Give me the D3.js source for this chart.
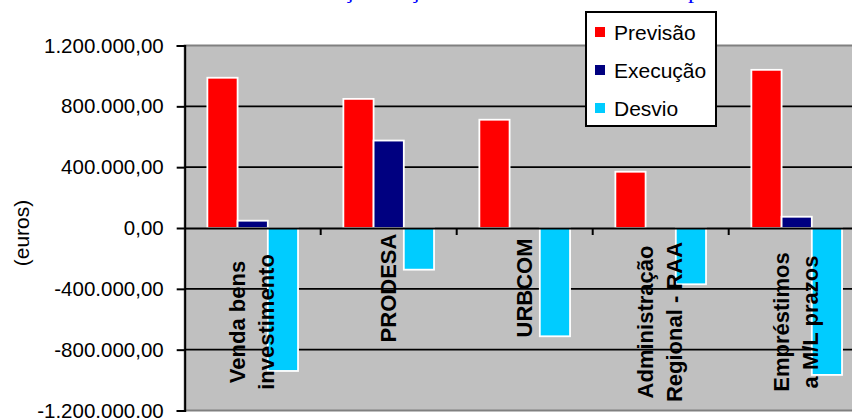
<!DOCTYPE html>
<html>
<head>
<meta charset="utf-8">
<script src="https://cdn.jsdelivr.net/npm/d3@7"></script>
<style>
  html, body { margin: 0; padding: 0; background: #fff; }
  svg { display: block; }
</style>
</head>
<body>
<script>
// Receitas de capital: previsão, execução e desvio por rubrica (euros)
const categories = ["Venda bens investimento", "PRODESA", "URBCOM", "Administração Regional - RAA", "Empréstimos a M/L prazos"];
const categoryLines = [["Venda bens", "investimento"], ["PRODESA"], ["URBCOM"], ["Administração", "Regional - RAA"], ["Empréstimos", "a M/L prazos"]];
const seriesNames = ["Previsão", "Execução", "Desvio"];
const previsao = [988000, 849000, 712000, 370000, 1040000];
const execucao = [48000, 575000, 0, 0, 74000];
const desvio = [-940000, -274000, -712000, -370000, -966000];
const yTicks = [-1200000, -800000, -400000, 0, 400000, 800000, 1200000];
const seriesColors = ["#FF0000", "#000080", "#00CCFF"];
const titleText = "Execução Orçamental das Receitas de Capital";
const yTitle = "(euros)";

const W = 852, H = 418;
const plot = { left: 184.7, right: 864.7, top: 45.5, bottom: 410.5 };

const svg = d3.select("body").append("svg")
  .attr("width", W).attr("height", H)
  .style("font-family", "Arial, 'Liberation Sans', sans-serif");

svg.append("rect").attr("width", W).attr("height", H).attr("fill", "#fff");

const pt = d3.formatLocale({ decimal: ",", thousands: ".", grouping: [3], currency: ["", " €"], minus: "-" });
const fmt = pt.format(",.2f");

const x = d3.scaleBand().domain(categories).range([plot.left, plot.right]).padding(0);
const xs = d3.scaleBand().domain(seriesNames).range([0, x.bandwidth()]).paddingInner(0).paddingOuter(0.75);
const y = d3.scaleLinear().domain([-1200000, 1200000]).range([plot.bottom, plot.top]);

// plot area
svg.append("rect")
  .attr("x", plot.left).attr("y", plot.top)
  .attr("width", plot.right - plot.left).attr("height", plot.bottom - plot.top)
  .attr("fill", "#C0C0C0").attr("stroke", "#808080").attr("stroke-width", 2);

// horizontal gridlines
svg.append("g").selectAll("line")
  .data(yTicks.filter(t => t !== 0 && Math.abs(t) !== 1200000))
  .join("line")
  .attr("x1", plot.left).attr("x2", plot.right)
  .attr("y1", d => y(d)).attr("y2", d => y(d))
  .attr("stroke", "#000").attr("stroke-width", 1.6);

// bars
const rows = categories.map((c, i) => ({
  cat: c,
  vals: [previsao[i], execucao[i], desvio[i]]
}));

const groups = svg.append("g").selectAll("g")
  .data(rows).join("g")
  .attr("transform", d => `translate(${x(d.cat)},0)`);

groups.selectAll("rect")
  .data(d => d.vals.map((v, k) => ({ v, s: seriesNames[k], k })).filter(e => e.v !== 0))
  .join("rect")
  .attr("x", e => xs(e.s))
  .attr("width", xs.bandwidth())
  .attr("y", e => y(Math.max(0, e.v)))
  .attr("height", e => Math.abs(y(e.v) - y(0)))
  .attr("fill", e => seriesColors[e.k])
  .attr("stroke", "#fff").attr("stroke-width", 1.8);

// y axis
const yAxis = d3.axisLeft(y).tickValues(yTicks).tickFormat(fmt).tickSize(8).tickPadding(13);
const gy = svg.append("g").attr("transform", `translate(${plot.left},0)`).call(yAxis);
gy.select(".domain").attr("stroke", "#000").attr("stroke-width", 2);
gy.selectAll(".tick line").attr("stroke", "#000").attr("stroke-width", 2);
gy.selectAll(".tick text").attr("fill", "#000").style("font-size", "20.5px")
  .style("font-family", "Arial, 'Liberation Sans', sans-serif");

// category axis at zero
const xAxis = d3.axisBottom(x).tickSize(0).tickFormat("");
const gx = svg.append("g").attr("transform", `translate(0,${y(0)})`).call(xAxis);
gx.select(".domain").attr("stroke", "#000").attr("stroke-width", 2);
gx.selectAll(".tick").remove();
svg.append("g").selectAll("line")
  .data(categories.slice(1))
  .join("line")
  .attr("x1", d => x(d)).attr("x2", d => x(d))
  .attr("y1", y(0)).attr("y2", y(0) + 7)
  .attr("stroke", "#000").attr("stroke-width", 2);

// category labels, rotated
const lineGap = 29;
categories.forEach((c, i) => {
  const lines = categoryLines[i];
  const cx = x(c) + x.bandwidth() / 2;
  const cy = lines.length > 1 ? 322 : 288;
  lines.forEach((ln, j) => {
    const bx = cx + (j - (lines.length - 1) / 2) * lineGap + 7;
    svg.append("text")
      .attr("transform", `translate(${bx},${cy}) rotate(-90)`)
      .attr("text-anchor", "middle")
      .style("font-size", "22px").style("font-weight", "bold")
      .attr("fill", "#000")
      .text(ln);
  });
});

// y axis title
svg.append("text")
  .attr("transform", `translate(29,233) rotate(-90)`)
  .attr("text-anchor", "middle")
  .style("font-size", "21px").attr("fill", "#000")
  .text(yTitle);

// chart title
svg.append("text")
  .attr("x", 282).attr("y", -2)
  .style("font-family", "'Liberation Serif', 'Times New Roman', serif")
  .style("font-size", "24.5px")
  .attr("fill", "#0000FF")
  .text(titleText);

// legend
const lg = svg.append("g").attr("transform", "translate(586,12)");
lg.append("rect").attr("width", 130).attr("height", 114)
  .attr("fill", "#fff").attr("stroke", "#000").attr("stroke-width", 2);
seriesNames.forEach((s, k) => {
  const cy = 20 + k * 38;
  lg.append("rect").attr("x", 9).attr("y", cy - 5).attr("width", 10).attr("height", 10)
    .attr("fill", seriesColors[k]);
  lg.append("text").attr("x", 28).attr("y", cy).attr("dy", "0.36em")
    .style("font-size", "21px").attr("fill", "#000").text(s);
});
</script>
</body>
</html>
